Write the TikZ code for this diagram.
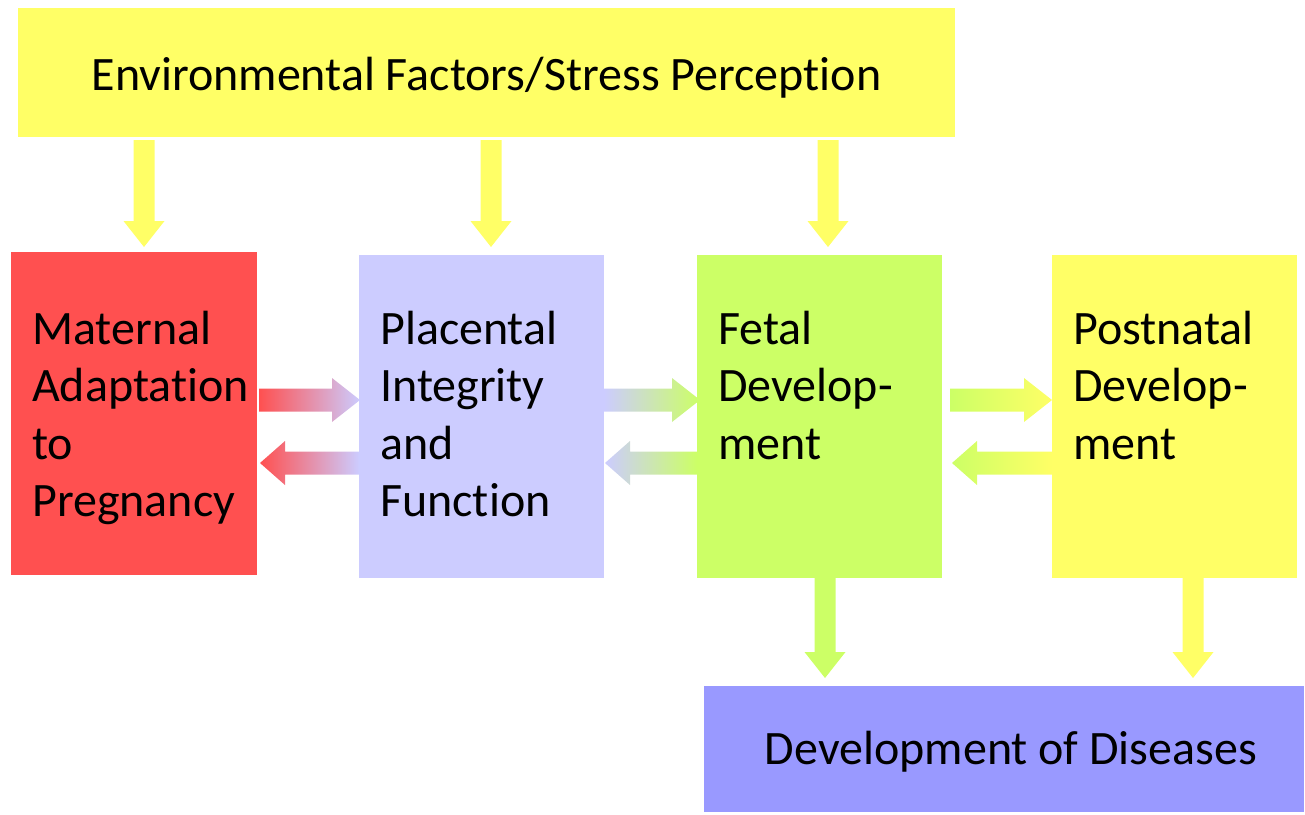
\documentclass[tikz,border=0pt]{standalone}
\usepackage{fontspec}
\setmainfont[Ligatures=NoCommon]{Carlito}
\usetikzlibrary{calc}
\definecolor{cred}{HTML}{FF5050}
\definecolor{clav}{HTML}{CCCCFF}
\definecolor{cgreen}{HTML}{CCFF66}
\definecolor{cyel}{HTML}{FFFF66}
\definecolor{cblue}{HTML}{9999FF}
\newcommand{\rarrowfill}[4]{%
 \shade[left color=#3, right color=#4] let \p1=#1, \p2=#2 in
 (\x1,\y1+11.5pt) -- (\x2-28pt,\y1+11.5pt) -- (\x2-28pt,\y1+22pt) -- (\x2,\y1)
 -- (\x2-28pt,\y1-22pt) -- (\x2-28pt,\y1-11.5pt) -- (\x1,\y1-11.5pt) -- cycle;}
\newcommand{\larrowfill}[4]{%
 \shade[left color=#3, right color=#4] let \p1=#1, \p2=#2 in
 (\x2,\y1+11.5pt) -- (\x1+25pt,\y1+11.5pt) -- (\x1+25pt,\y1+22pt) -- (\x1,\y1)
 -- (\x1+25pt,\y1-22pt) -- (\x1+25pt,\y1-11.5pt) -- (\x2,\y1-11.5pt) -- cycle;}
\newcommand{\darrowfill}[3]{%
 \fill[#3] let \p1=#1, \p2=#2 in
 (\x1-10.5pt,\y1) -- (\x1+10.5pt,\y1) -- (\x1+10.5pt,\y2+26pt) -- (\x1+20.5pt,\y2+26pt)
 -- (\x1,\y2) -- (\x1-20.5pt,\y2+26pt) -- (\x1-10.5pt,\y2+26pt) -- cycle;}
\begin{document}
\begin{tikzpicture}[x=1pt,y=-1pt,
  box/.style={anchor=north west, inner sep=0pt, outer sep=0pt},
  boxtext/.style={anchor=base west, align=left, inner sep=0pt, font=\fontsize{48}{57.5}\selectfont},
  titletext/.style={inner sep=0pt, font=\fontsize{48}{57.5}\selectfont}]
\useasboundingbox (0,0) rectangle (1305,814);
% boxes
\node[box, fill=cyel, minimum width=937pt, minimum height=129pt] (env) at (18,8) {};
\node[box, fill=cred, minimum width=246pt, minimum height=323pt] (mat) at (11,252) {};
\node[box, fill=clav, minimum width=245pt, minimum height=323pt] (pla) at (359,255) {};
\node[box, fill=cgreen, minimum width=245pt, minimum height=323pt] (fet) at (697,255) {};
\node[box, fill=cyel, minimum width=245pt, minimum height=323pt] (pos) at (1052,255) {};
\node[box, fill=cblue, minimum width=600pt, minimum height=126pt] (dis) at (704,686) {};
% texts (base anchor = baseline of last line)
\node[titletext] (envt) at ($(env.center)+(0,5)$) {Environmental Factors/Stress Perception};
\node[titletext] (dist) at ($(dis.center)+(7,3)$) {Development of Diseases};
\node[boxtext] (matt) at ($(mat.north west)+(21,264.5)$) {Maternal\\Adaptation\\to\\Pregnancy};
\node[boxtext] (plat) at ($(pla.north west)+(21,261.5)$) {Placental\\Integrity\\and\\Function};
\node[boxtext] (fett) at ($(fet.north west)+(21,204)$) {Fetal\\Develop-\\ment};
\node[boxtext] (post) at ($(pos.north west)+(21,204)$) {Postnatal\\Develop-\\ment};
% row coordinates
\coordinate (rowA) at (0,400);
\coordinate (rowB) at (0,463);
% horizontal arrows
\rarrowfill{($(mat.east |- rowA)+(2,0)$)}{($(pla.west |- rowA)+(1,0)$)}{cred}{clav}
\larrowfill{($(mat.east |- rowB)+(3,0)$)}{(pla.west |- rowB)}{cred}{clav}
\rarrowfill{(pla.east |- rowA)}{($(fet.west |- rowA)+(3,0)$)}{clav}{cgreen}
\larrowfill{($(pla.east |- rowB)+(1,0)$)}{(fet.west |- rowB)}{clav}{cgreen}
\rarrowfill{($(fet.east |- rowA)+(8,0)$)}{(pos.west |- rowA)}{cgreen}{cyel}
\larrowfill{($(fet.east |- rowB)+(10,0)$)}{(pos.west |- rowB)}{cgreen}{cyel}
% vertical arrows
\darrowfill{($(env.south -| mat.north)+(10,3)$)}{($(mat.north)+(10,-5)$)}{cyel}
\darrowfill{($(env.south -| pla.north)+(9.5,3)$)}{($(pla.north)+(9.5,-8)$)}{cyel}
\darrowfill{($(env.south -| fet.north)+(8.5,3)$)}{($(fet.north)+(8.5,-8)$)}{cyel}
\darrowfill{($(fet.south)+(5.5,0)$)}{($(dis.north -| fet.south)+(5.5,-8)$)}{cgreen}
\darrowfill{($(pos.south)+(18.5,0)$)}{($(dis.north -| pos.south)+(18.5,-8)$)}{cyel}
\end{tikzpicture}
\end{document}
